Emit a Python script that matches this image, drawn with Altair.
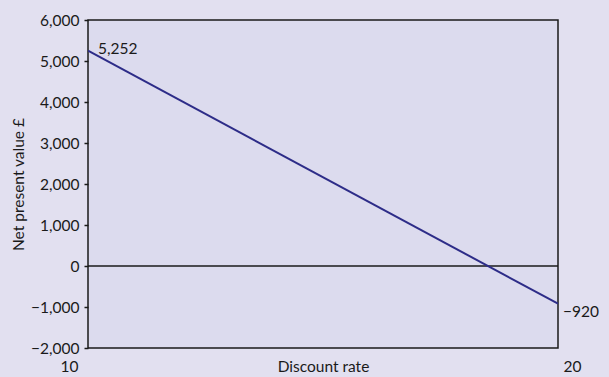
import altair as alt
import pandas as pd

rates = [10, 20]
npv = [5252, -920]
label_pos = ["start", "end"]

df = pd.DataFrame({"rate": rates, "npv": npv, "pos": label_pos})

FONT = "Lato"
FS = 15.5
INK = "#1a1a1a"

x = alt.X("rate:Q", scale=alt.Scale(domain=[10, 20], nice=False, zero=False),
          axis=alt.Axis(values=[10, 20], title="Discount rate", ticks=False, tickSize=0,
                        domain=False, grid=False, labelPadding=23, labelBaseline="alphabetic",
                        labelAlign=alt.ExprRef("datum.value == 10 ? 'right' : 'left'"),
                        labelOffset=alt.ExprRef("datum.value == 10 ? -10 : 5"),
                        titleY=23, titleBaseline="alphabetic", labelFlush=False))
y = alt.Y("npv:Q", scale=alt.Scale(domain=[-2000, 6000], nice=False),
          axis=alt.Axis(values=list(range(-2000, 6001, 1000)), format=",d",
                        title="Net present value £", tickSize=4, labelPadding=5,
                        domain=False, grid=False, titleX=-70, titleY=164,
                        titleBaseline="middle", titleAlign="center", titleAngle=-90))

line = alt.Chart(df).mark_line(color="#2d2c88", strokeWidth=2, clip=True).encode(x=x, y=y)

zero = alt.Chart(pd.DataFrame({"z": [0]})).mark_rule(color=INK, strokeWidth=1.5).encode(
    y=alt.Y("z:Q", scale=alt.Scale(domain=[-2000, 6000], nice=False)))

t1 = alt.Chart(df).transform_filter("datum.pos == 'start'").mark_text(
    align="left", baseline="alphabetic", dx=10, dy=3, font=FONT, fontSize=FS, color=INK
).encode(x=x, y=y, text=alt.Text("npv:Q", format=",d"))

t2 = alt.Chart(df).transform_filter("datum.pos == 'end'").mark_text(
    align="left", baseline="alphabetic", dx=5, dy=13, font=FONT, fontSize=FS, color=INK
).encode(x=x, y=y, text=alt.Text("npv:Q", format=",d"))

chart = alt.layer(zero, line, t1, t2).properties(
    width=470, height=328,
    autosize=alt.AutoSizeParams(type="none"),
    padding={"left": 88, "top": 20, "right": 51, "bottom": 29},
    background="#e2e0f0",
).configure_view(
    fill="#dcdbee", stroke=INK, strokeWidth=1.5
).configure_axis(
    labelFont=FONT, titleFont=FONT, labelFontSize=FS, titleFontSize=FS,
    labelColor=INK, titleColor=INK, tickColor=INK, titleFontWeight="normal",
    tickWidth=1.5
)

chart.save("out.html", embed_options={"renderer": "svg", "actions": False})
